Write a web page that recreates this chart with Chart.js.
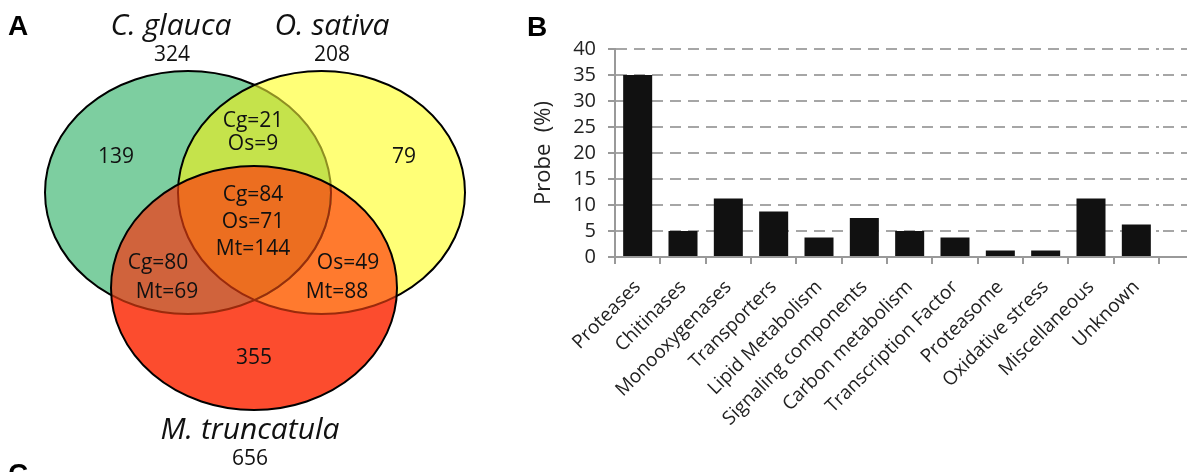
<!DOCTYPE html>
<html>
<head>
<meta charset="utf-8">
<script src="https://cdn.jsdelivr.net/npm/chart.js@4.4.1/dist/chart.umd.min.js"></script>
<style>
  html, body { margin: 0; padding: 0; background: #fff; }
  #wrap { position: relative; width: 1187px; height: 472px; overflow: hidden; }
  #vennBox { position: absolute; left: 0; top: 0; width: 510px; height: 472px; }
  #barBox { position: absolute; left: 510px; top: 0; width: 677px; height: 472px; }
</style>
</head>
<body>
<div id="wrap">
  <div id="vennBox"><canvas id="venn"></canvas></div>
  <div id="barBox"><canvas id="bars"></canvas></div>
</div>
<script>
// ---- panel B data ----
const categories = ['Proteases', 'Chitinases', 'Monooxygenases', 'Transporters', 'Lipid Metabolism',
  'Signaling components', 'Carbon metabolism', 'Transcription Factor', 'Proteasome',
  'Oxidative stress', 'Miscellaneous', 'Unknown'];
const probePercent = [35, 5, 11.25, 8.75, 3.75, 7.5, 5, 3.75, 1.25, 1.25, 11.25, 6.25];
const yMin = 0, yMax = 40, yStep = 5;

// ---- panel A data ----
const speciesNames = ['C. glauca', 'O. sativa', 'M. truncatula'];
const speciesTotals = [324, 208, 656];
const uniqueCounts = [139, 79, 355];
const pairKeys = [['Cg', 'Os'], ['Cg', 'Mt'], ['Os', 'Mt']];
const pairCounts = [[21, 9], [80, 69], [49, 88]];
const coreKeys = ['Cg', 'Os', 'Mt'];
const coreCounts = [84, 71, 144];

const FONT = "'Open Sans', 'DejaVu Sans', sans-serif";
const DASH = [11, 7];

// venn geometry, in venn-scale units (scale spans the canvas)
const vennLayout = {
  shapes: [
    { x: 188, y: 192.5, rx: 143, ry: 121.5 },
    { x: 321.5, y: 192.5, rx: 143.5, ry: 121.5 },
    { x: 254, y: 288, rx: 143, ry: 122 }
  ],
  only: ['#7DCEA0', '#FFFF77', '#FC4C2E'],
  pair: ['#C5E34B', '#D0633C', '#FF7A2E'],   // G&Y, G&R, Y&R
  core: '#EC6E20',
  titlePos: [[171, 26], [332, 26], [250, 430]],
  totalPos: [[172, 55], [332, 55], [250, 459]],
  uniquePos: [[116, 157], [404, 157], [254, 358]],
  pairPos: [[[253, 121], [253, 144]], [[158, 263], [167, 292]], [[348, 263], [337, 292]]],
  corePos: [[253, 195], [253, 222], [253, 249]]
};

const vennPlugin = {
  id: 'venn',
  afterDraw(chart) {
    const ctx = chart.ctx;
    const xs = chart.scales.x, ys = chart.scales.y;
    const W = chart.width, H = chart.height;
    const px = v => xs.getPixelForValue(v);
    const py = v => ys.getPixelForValue(v);
    const path = (i) => {
      const s = vennLayout.shapes[i];
      const cx = px(s.x), cy = py(s.y);
      ctx.ellipse(cx, cy, Math.abs(px(s.x + s.rx) - cx), Math.abs(py(s.y + s.ry) - cy), 0, 0, Math.PI * 2);
    };
    const fill = (i, col) => { ctx.beginPath(); path(i); ctx.fillStyle = col; ctx.fill(); };
    const clipIn = (i) => { ctx.beginPath(); path(i); ctx.clip(); };
    const clipOut = (i) => { ctx.beginPath(); ctx.rect(0, 0, W, H); path(i); ctx.clip('evenodd'); };
    const stroke = (i, col) => { ctx.beginPath(); path(i); ctx.strokeStyle = col; ctx.lineWidth = 2; ctx.stroke(); };

    ctx.save();
    fill(0, vennLayout.only[0]);
    fill(1, vennLayout.only[1]);
    ctx.save(); clipIn(0); fill(1, vennLayout.pair[0]); ctx.restore();
    fill(2, vennLayout.only[2]);
    ctx.save(); clipIn(0); fill(2, vennLayout.pair[1]); ctx.restore();
    ctx.save(); clipIn(1); fill(2, vennLayout.pair[2]); ctx.restore();
    ctx.save(); clipIn(0); clipIn(1); fill(2, vennLayout.core); ctx.restore();

    // outlines: inner arcs tinted, outer arcs black
    ctx.save(); clipIn(1); stroke(0, '#8f8f22'); ctx.restore();
    ctx.save(); clipIn(2); stroke(0, '#9a2a0c'); stroke(1, '#9a2a0c'); ctx.restore();
    ctx.save(); clipOut(1); clipOut(2); stroke(0, '#000'); ctx.restore();
    ctx.save(); clipOut(2); stroke(1, '#000'); ctx.restore();
    stroke(2, '#000');

    // texts
    ctx.fillStyle = '#111';
    ctx.textAlign = 'center';
    ctx.textBaseline = 'middle';
    ctx.font = 'italic 30px ' + FONT;
    speciesNames.forEach((n, i) => ctx.fillText(n, px(vennLayout.titlePos[i][0]), py(vennLayout.titlePos[i][1])));
    ctx.font = '21px ' + FONT;
    speciesTotals.forEach((n, i) => ctx.fillText(String(n), px(vennLayout.totalPos[i][0]), py(vennLayout.totalPos[i][1])));
    uniqueCounts.forEach((n, i) => ctx.fillText(String(n), px(vennLayout.uniquePos[i][0]), py(vennLayout.uniquePos[i][1])));
    pairCounts.forEach((pair, i) => {
      pair.forEach((n, j) => {
        const p = vennLayout.pairPos[i][j];
        ctx.fillText(pairKeys[i][j] + '=' + n, px(p[0]), py(p[1]));
      });
    });
    coreCounts.forEach((n, j) => {
      const p = vennLayout.corePos[j];
      ctx.fillText(coreKeys[j] + '=' + n, px(p[0]), py(p[1]));
    });

    // panel letters
    ctx.fillStyle = '#000';
    ctx.textAlign = 'left';
    ctx.textBaseline = 'alphabetic';
    ctx.font = "bold 28px 'Liberation Sans', Arial, sans-serif";
    ctx.fillText('A', 8, 35);
    ctx.fillText('C', 8, 483);
    ctx.restore();
  }
};

new Chart(document.getElementById('venn'), {
  type: 'scatter',
  data: {
    datasets: [{ data: vennLayout.shapes.map(s => ({ x: s.x, y: s.y })), pointRadius: 0 }]
  },
  options: {
    responsive: true,
    maintainAspectRatio: false,
    animation: false,
    layout: { padding: 0 },
    plugins: { legend: { display: false }, tooltip: { enabled: false } },
    scales: {
      x: { type: 'linear', display: false, min: 0, max: 510 },
      y: { type: 'linear', display: false, min: 0, max: 472, reverse: true }
    }
  },
  plugins: [vennPlugin]
});

// gridlines run past the last category to the figure edge, plus solid y axis line
const extendGrid = {
  id: 'extendGrid',
  afterDraw(chart) {
    const ctx = chart.ctx;
    const ys = chart.scales.y;
    const area = chart.chartArea;
    ctx.save();
    ctx.lineWidth = 2;
    ys.ticks.forEach(t => {
      const y = Math.round(ys.getPixelForValue(t.value));
      ctx.beginPath();
      if (t.value === yMin) {
        ctx.setLineDash([]);
        ctx.strokeStyle = '#999';
      } else {
        ctx.setLineDash(DASH);
        ctx.lineDashOffset = -((area.right - area.left) % (DASH[0] + DASH[1]));
        ctx.strokeStyle = '#a6a6a6';
      }
      ctx.moveTo(area.right, y);
      ctx.lineTo(chart.width, y);
      ctx.stroke();
    });
    ctx.setLineDash([]);
    ctx.strokeStyle = '#999';
    ctx.beginPath();
    ctx.moveTo(area.left, ys.getPixelForValue(yMax));
    ctx.lineTo(area.left, ys.getPixelForValue(yMin));
    ctx.stroke();
    ctx.fillStyle = '#000';
    ctx.font = "bold 28px 'Liberation Sans', Arial, sans-serif";
    ctx.textBaseline = 'alphabetic';
    ctx.fillText('B', 17, 36);
    ctx.restore();
  }
};

new Chart(document.getElementById('bars'), {
  type: 'bar',
  data: {
    labels: categories,
    datasets: [{
      data: probePercent,
      backgroundColor: '#111',
      borderWidth: 0,
      barPercentage: 0.64,
      categoryPercentage: 1
    }]
  },
  options: {
    responsive: true,
    maintainAspectRatio: false,
    animation: false,
    layout: { padding: { top: 49, right: 28, left: 0, bottom: 0 } },
    plugins: { legend: { display: false }, tooltip: { enabled: false } },
    scales: {
      x: {
        grid: { display: true, drawOnChartArea: false, tickLength: 7, color: '#999', lineWidth: 2 },
        border: { color: '#999', width: 2 },
        ticks: { maxRotation: 45, minRotation: 45, autoSkip: false, color: '#222', padding: 12,
                 font: { family: FONT, size: 19 } },
        afterFit(s) { s.height = 215; }
      },
      y: {
        min: yMin,
        max: yMax,
        ticks: { stepSize: yStep, autoSkip: false, color: '#222', padding: 12, font: { family: FONT, size: 20 } },
        grid: { color: '#a6a6a6', lineWidth: 2, tickBorderDash: [], tickLength: 7, tickColor: '#999' },
        border: { color: '#999', width: 2, dash: DASH },
        title: { display: true, text: 'Probe  (%)', color: '#222', font: { family: FONT, size: 22 },
                 padding: { top: 21, bottom: 0 } },
        afterFit(s) { s.width = 105; }
      }
    }
  },
  plugins: [extendGrid]
});
</script>
</body>
</html>
